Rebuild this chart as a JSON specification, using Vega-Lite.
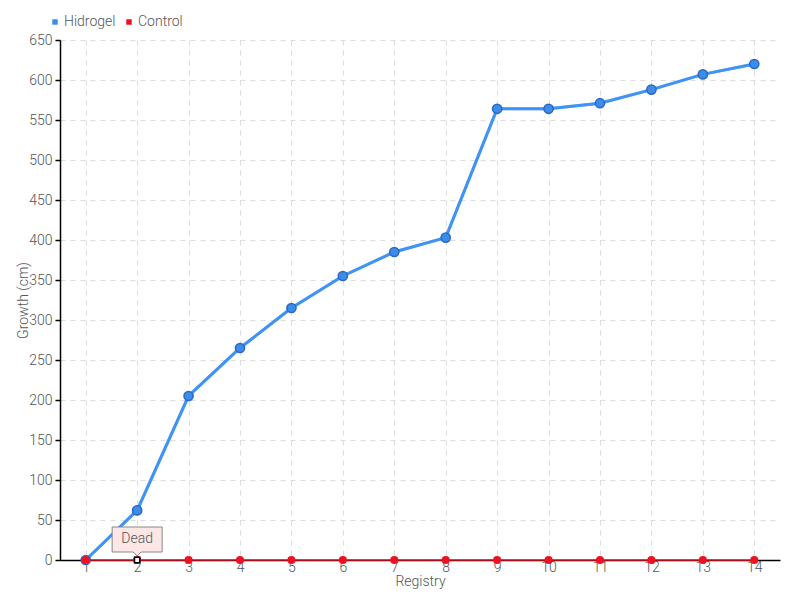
{
  "$schema": "https://vega.github.io/schema/vega-lite/v6.json",
  "width": 720,
  "height": 520,
  "autosize": {"type": "none"},
  "padding": {"left": 60, "top": 40, "right": 20, "bottom": 40},
  "background": "white",
  "config": {
    "view": {"stroke": null},
    "font": "Roboto",
    "axis": {"labelFont": "Roboto", "titleFont": "Roboto", "labelColor": "#555", "titleColor": "#555", "labelFontSize": 14, "titleFontSize": 14, "labelFontWeight": 300, "titleFontWeight": 300, "gridColor": "#dddddd", "gridDash": [5, 5], "domainColor": "#000", "tickColor": "#000", "labelOverlap": false}
  },
  "datasets": {
    "growth": [
      {"series": "Hidrogel", "registry": 1, "growth": 0},
      {"series": "Hidrogel", "registry": 2, "growth": 62},
      {"series": "Hidrogel", "registry": 3, "growth": 205},
      {"series": "Hidrogel", "registry": 4, "growth": 265},
      {"series": "Hidrogel", "registry": 5, "growth": 315},
      {"series": "Hidrogel", "registry": 6, "growth": 355},
      {"series": "Hidrogel", "registry": 7, "growth": 385},
      {"series": "Hidrogel", "registry": 8, "growth": 403},
      {"series": "Hidrogel", "registry": 9, "growth": 564},
      {"series": "Hidrogel", "registry": 10, "growth": 564},
      {"series": "Hidrogel", "registry": 11, "growth": 571},
      {"series": "Hidrogel", "registry": 12, "growth": 588},
      {"series": "Hidrogel", "registry": 13, "growth": 607},
      {"series": "Hidrogel", "registry": 14, "growth": 620},
      {"series": "Control", "registry": 1, "growth": 0},
      {"series": "Control", "registry": 2, "growth": 0},
      {"series": "Control", "registry": 3, "growth": 0},
      {"series": "Control", "registry": 4, "growth": 0},
      {"series": "Control", "registry": 5, "growth": 0},
      {"series": "Control", "registry": 6, "growth": 0},
      {"series": "Control", "registry": 7, "growth": 0},
      {"series": "Control", "registry": 8, "growth": 0},
      {"series": "Control", "registry": 9, "growth": 0},
      {"series": "Control", "registry": 10, "growth": 0},
      {"series": "Control", "registry": 11, "growth": 0},
      {"series": "Control", "registry": 12, "growth": 0},
      {"series": "Control", "registry": 13, "growth": 0},
      {"series": "Control", "registry": 14, "growth": 0}
    ],
    "notes": [
      {"registry": 2, "growth": 0, "label": "Dead"}
    ]
  },
  "encoding": {
    "x": {"field": "registry", "type": "quantitative", "scale": {"domain": [0.5, 14.5], "nice": false, "zero": false},
      "axis": {"title": "Registry", "values": [1,2,3,4,5,6,7,8,9,10,11,12,13,14], "format": "d", "ticks": false, "labelPadding": 0, "titlePadding": 0, "grid": true, "domainWidth": 1.5}},
    "y": {"field": "growth", "type": "quantitative", "scale": {"domain": [0, 650], "nice": false},
      "axis": {"title": "Growth (cm)", "values": [0,50,100,150,200,250,300,350,400,450,500,550,600,650], "grid": true, "tickSize": 5, "tickWidth": 1.5, "domainWidth": 1.5, "labelPadding": 3, "titlePadding": -2}}
  },
  "layer": [
    {
      "data": {"name": "growth"},
      "transform": [{"filter": "datum.series == 'Hidrogel'"}],
      "mark": {"type": "line", "color": "#1f5fb0", "strokeWidth": 3, "opacity": 0.35, "dy": 1.5},
      "encoding": {"y": {"field": "growth", "type": "quantitative"}}
    },
    {
      "data": {"name": "growth"},
      "transform": [{"filter": "datum.series == 'Hidrogel'"}],
      "mark": {"type": "line", "color": "#3d94f6", "strokeWidth": 3}
    },
    {
      "data": {"name": "growth"},
      "transform": [{"filter": "datum.series == 'Hidrogel'"}],
      "mark": {"type": "point", "filled": true, "size": 85, "stroke": "#2a68c4", "strokeWidth": 1.5, "opacity": 1},
      "encoding": {
        "color": {"field": "series", "type": "nominal", "scale": {"domain": ["Hidrogel", "Control"], "range": ["#3d8ce9", "#ee1122"]},
          "legend": {"title": null, "orient": "none", "legendX": -12, "legendY": -25, "direction": "horizontal", "symbolType": "square", "symbolSize": 30, "symbolStrokeWidth": 0, "labelFontSize": 14, "labelFontWeight": 300, "labelColor": "#555", "labelFont": "Roboto", "columnPadding": 6, "labelOffset": 2}}
      }
    },
    {
      "data": {"name": "growth"},
      "transform": [{"filter": "datum.series == 'Control'"}],
      "mark": {"type": "line", "color": "#e5101c", "strokeWidth": 1.5}
    },
    {
      "data": {"name": "growth"},
      "transform": [{"filter": "datum.series == 'Control'"}],
      "mark": {"type": "point", "filled": true, "size": 65, "opacity": 1},
      "encoding": {
        "color": {"field": "series", "type": "nominal"}
      }
    },
    {
      "data": {"name": "notes"},
      "mark": {"type": "point", "shape": "M-1,-1.32H1V-0.32H0.16L0,-0.16L-0.16,-0.32H-1Z", "size": 2500, "filled": true, "fill": "#fde6e6", "stroke": "#888888", "strokeWidth": 1, "opacity": 1}
    },
    {
      "data": {"name": "notes"},
      "mark": {"type": "text", "dy": -21, "fontSize": 14, "fontWeight": 300, "color": "#555", "font": "Roboto"},
      "encoding": {"text": {"field": "label"}}
    },
    {
      "data": {"name": "notes"},
      "mark": {"type": "point", "shape": "square", "size": 28, "filled": true, "fill": "white", "stroke": "black", "strokeWidth": 1.5, "opacity": 1}
    }
  ]
}
